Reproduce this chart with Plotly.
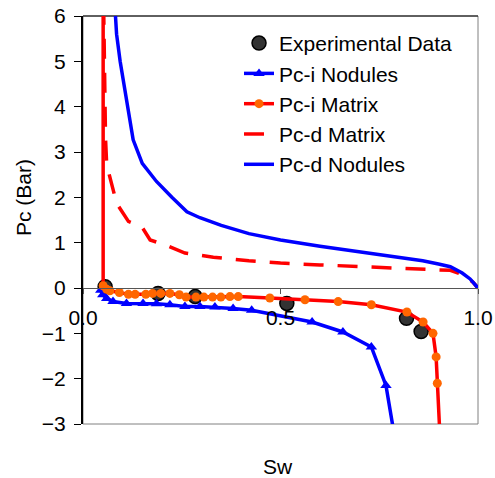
import plotly.graph_objects as go

# ---------------- data ----------------
exp_sw = [0.056, 0.19, 0.284, 0.516, 0.819, 0.856]
exp_pc = [0.03, -0.12, -0.19, -0.34, -0.67, -0.96]

pci_nod_sw = [0.045, 0.05, 0.06, 0.076, 0.11, 0.152, 0.186, 0.22, 0.258, 0.296,
              0.334, 0.38, 0.427, 0.58, 0.658, 0.73, 0.767, 0.795]
pci_nod_pc = [-0.05, -0.15, -0.23, -0.3, -0.34, -0.34, -0.35, -0.37, -0.41, -0.41,
              -0.42, -0.45, -0.49, -0.75, -0.97, -1.3, -2.15, -3.6]

pci_mat_sw = [0.051, 0.051, 0.06, 0.068, 0.092, 0.115, 0.132, 0.159, 0.176, 0.197,
              0.22, 0.244, 0.261, 0.286, 0.306, 0.328, 0.349, 0.372, 0.393, 0.473,
              0.562, 0.646, 0.73, 0.82, 0.861, 0.886, 0.894, 0.897, 0.905]
pci_mat_pc = [7.0, 0.05, -0.03, -0.06, -0.1, -0.14, -0.14, -0.14, -0.12, -0.12,
              -0.12, -0.15, -0.2, -0.2, -0.2, -0.2, -0.2, -0.19, -0.19, -0.22,
              -0.26, -0.3, -0.37, -0.53, -0.75, -1.0, -1.52, -2.1, -3.5]

pcd_mat_sw = [0.051, 0.054, 0.057, 0.060, 0.073, 0.085, 0.115, 0.149, 0.170, 0.208,
              0.258, 0.33, 0.42, 0.5, 0.6, 0.7, 0.8, 0.87, 0.93, 0.962, 0.987, 1.0]
pcd_mat_pc = [7.0, 4.5, 3.3, 2.72, 2.24, 1.87, 1.47, 1.35, 1.06, 0.95,
              0.77, 0.68, 0.6, 0.55, 0.51, 0.48, 0.45, 0.41, 0.39, 0.29, 0.13, 0.0]

pcd_nod_sw = [0.078, 0.085, 0.094, 0.103, 0.114, 0.127, 0.15, 0.186, 0.225, 0.263,
              0.296, 0.35, 0.42, 0.5, 0.6, 0.7, 0.8, 0.86, 0.9, 0.93, 0.96, 0.98, 1.0]
pcd_nod_pc = [6.6, 5.6, 5.0, 4.5, 4.0, 3.27, 2.75, 2.35, 2.0, 1.68,
              1.55, 1.38, 1.2, 1.06, 0.92, 0.8, 0.68, 0.6, 0.53, 0.47, 0.33, 0.2, 0.0]

y_ticks = [-3, -2, -1, 0, 1, 2, 3, 4, 5, 6]
x_ticks = [0.0, 0.5, 1.0]

FONT = "Arial, Liberation Sans, sans-serif"
BLUE = "#0000FF"
RED = "#FF0000"
ORANGE = "#FF6600"

fig = go.Figure()
fig.add_trace(go.Scatter(x=exp_sw, y=exp_pc, mode="markers", name="Experimental Data",
                         marker=dict(size=14, color="#333333", line=dict(color="black", width=1.5))))
fig.add_trace(go.Scatter(x=pci_nod_sw, y=pci_nod_pc, mode="lines+markers", name="Pc-i Nodules",
                         line=dict(color=BLUE, width=3.5),
                         marker=dict(symbol="triangle-up", size=10, color=BLUE)))
fig.add_trace(go.Scatter(x=pci_mat_sw, y=pci_mat_pc, mode="lines+markers", name="Pc-i Matrix",
                         line=dict(color=RED, width=3.5),
                         marker=dict(symbol="circle", size=9, color=ORANGE)))
fig.add_trace(go.Scatter(x=pcd_mat_sw, y=pcd_mat_pc, mode="lines", name="Pc-d Matrix",
                         line=dict(color=RED, width=3.5, dash="20px,14px")))
fig.add_trace(go.Scatter(x=pcd_nod_sw, y=pcd_nod_pc, mode="lines", name="Pc-d Nodules",
                         line=dict(color=BLUE, width=3.5)))

fig.update_layout(
    width=495, height=478,
    margin=dict(l=83, r=17, t=16, b=54, autoexpand=False),
    paper_bgcolor="white", plot_bgcolor="white",
    font=dict(family=FONT, size=21, color="black"),
    showlegend=True,
    legend=dict(x=0.395, y=0.983, xanchor="left", yanchor="top",
                bgcolor="rgba(0,0,0,0)", font=dict(size=21), traceorder="normal"),
    xaxis=dict(range=[0, 1], anchor="free", position=1/3, tickvals=x_ticks,
               tickformat=".1f", ticks="outside", ticklen=5, tickcolor="#555",
               showline=True, linecolor="#555", linewidth=1, automargin=False,
               showgrid=False, zeroline=False, ticklabelstandoff=6,
               tickfont=dict(size=21)),
    yaxis=dict(range=[-3, 6], tickvals=y_ticks, ticks="outside", ticklen=7,
               tickcolor="black", showline=True, linecolor="black", linewidth=2,
               automargin=False, ticklabelstandoff=4,
               showgrid=False, zeroline=False, tickfont=dict(size=21)),
    shapes=[
        dict(type="rect", xref="x domain", yref="y domain", x0=0, x1=1, y0=0, y1=1,
             line=dict(color="#808080", width=1), layer="below"),
        dict(type="line", xref="x domain", yref="y domain", x0=0, x1=1, y0=1, y1=1,
             line=dict(color="black", width=1.2), layer="below"),
    ],
    annotations=[
        dict(text="Pc (Bar)", xref="paper", yref="paper", x=-0.149, y=0.554,
             xanchor="center", yanchor="middle",
             textangle=-90, showarrow=False, font=dict(size=21)),
        dict(text="Sw", xref="paper", yref="paper", x=0.494, y=-0.103,
             xanchor="center", yanchor="middle",
             showarrow=False, font=dict(size=21)),
    ],
)

fig.write_html("out.html", post_script="document.body.style.margin='0';",
               config={"displayModeBar": False})
